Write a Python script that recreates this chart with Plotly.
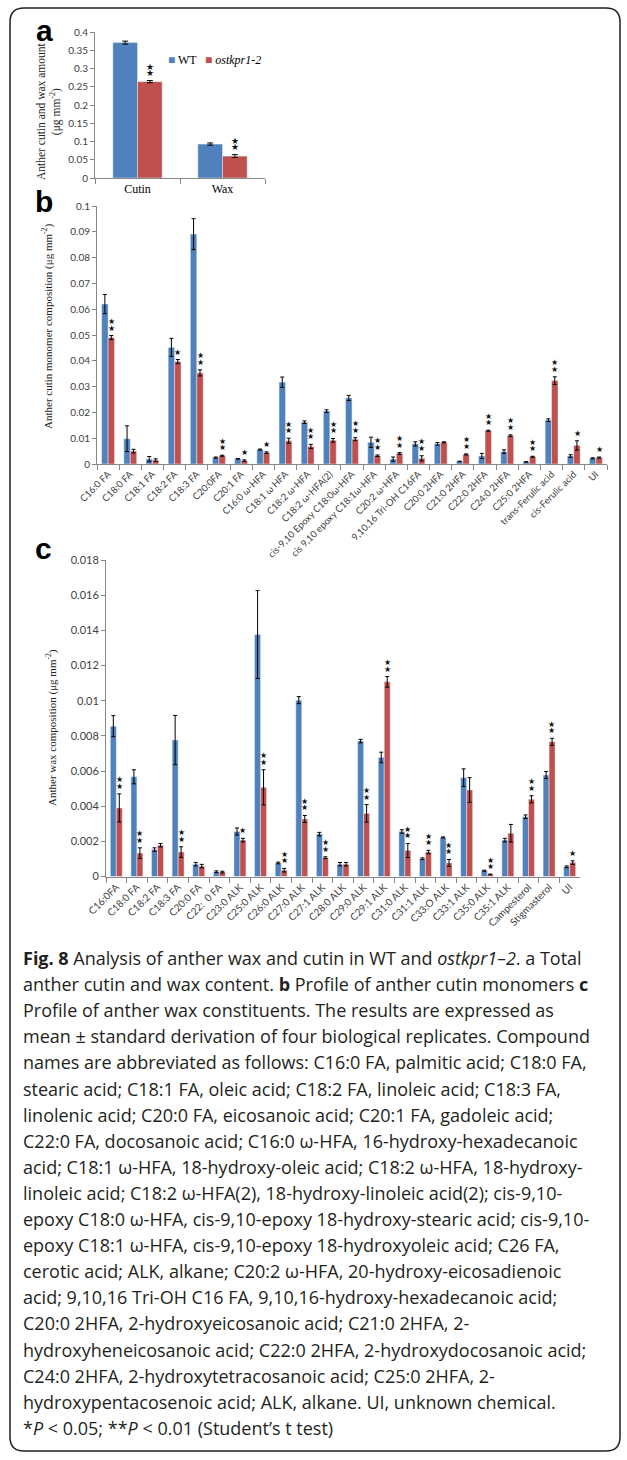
import plotly.graph_objects as go

W, H = 627, 1460

# ---------------- data ----------------
cats_a = ["Cutin", "Wax"]
wt_a = [0.371, 0.093]
wt_a_err = [0.004, 0.003]
ko_a = [0.264, 0.060]
ko_a_err = [0.003, 0.004]
sig_a = ["**", "**"]

cats_b = ["C16:0 FA", "C18:0 FA", "C18:1 FA", "C18:2 FA", "C18:3 FA", "C20:0FA", "C20:1 FA",
          "C16:0 ω-HFA", "C18:1 ω HFA", "C18:2 ω-HFA", "C18:2 ω-HFA(2)",
          "cis-9,10 Epoxy C18:0ω-HFA", "cis 9,10 epoxy C18:1ω-HFA", "C20:2 ω-HFA",
          "9,10,16 Tri-OH C16FA", "C20:0 2HFA", "C21:0 2HFA", "C22:0 2HFA", "C24:0 2HFA",
          "C25:0 2HFA", "trans-Ferulic acid", "cis-Ferulic acid", "UI"]
wt_b = [0.062, 0.0098, 0.0019, 0.0452, 0.0891, 0.0025, 0.0020, 0.0056, 0.0317, 0.0162, 0.0205,
        0.0256, 0.0084, 0.0019, 0.0078, 0.0078, 0.0010, 0.0031, 0.0048, 0.0008, 0.0170, 0.0031, 0.0022]
wt_b_err = [0.0037, 0.005, 0.001, 0.0035, 0.006, 0.0002, 0.0001, 0.0002, 0.002, 0.0005, 0.0005,
            0.001, 0.002, 0.0008, 0.0008, 0.0005, 0.0001, 0.001, 0.0007, 0.0001, 0.0005, 0.0005, 0.0002]
ko_b = [0.049, 0.005, 0.0015, 0.0397, 0.0353, 0.0032, 0.0013, 0.0044, 0.0090, 0.0068, 0.0092,
        0.0096, 0.0032, 0.0041, 0.0022, 0.0084, 0.0037, 0.0129, 0.0110, 0.0028, 0.0323, 0.0072, 0.0025]
ko_b_err = [0.0008, 0.0007, 0.0005, 0.0008, 0.0012, 0.0002, 0.0003, 0.0003, 0.001, 0.0008, 0.0007,
            0.0006, 0.0003, 0.0003, 0.001, 0.0002, 0.0002, 0.0002, 0.0003, 0.0002, 0.0015, 0.0018, 0.0002]
sig_b = ["**", "", "", "*", "**", "**", "*", "*", "**", "**", "**", "**", "**", "**", "**", "",
         "**", "**", "**", "**", "**", "*", "*"]

cats_c = ["C16:0FA", "C18:0 FA", "C18:2 FA", "C18:3 FA", "C20:0 FA", "C22:\u00a0\u00a00 FA", "C23:0 ALK",
          "C25:0 ALK", "C26:0 ALK", "C27:0 ALK", "C27:1 ALK", "C28:0 ALK", "C29:0 ALK", "C29:1 ALK",
          "C31:0 ALK", "C31:1 ALK", "C33:O ALK", "C33:1 ALK", "C35:0 ALK", "C35:1 ALK",
          "Campesterol", "Stigmasterol", "UI"]
wt_c = [0.00855, 0.00567, 0.00153, 0.00776, 0.0007, 0.00027, 0.00256, 0.01376, 0.00077, 0.01003,
        0.00241, 0.0007, 0.0077, 0.00677, 0.00256, 0.00101, 0.00222, 0.00562, 0.00033, 0.00207,
        0.0034, 0.00577, 0.00055]
wt_c_err = [0.0006, 0.0004, 0.0001, 0.0014, 0.0001, 0.00005, 0.0002, 0.0025, 0.00005, 0.0002,
            0.0001, 0.0001, 0.0001, 0.0003, 0.0001, 0.00005, 0.00003, 0.0005, 0.00003, 0.0001,
            0.0001, 0.0002, 0.00005]
ko_c = [0.0039, 0.00133, 0.00178, 0.00139, 0.00059, 0.00025, 0.00207, 0.00507, 0.00036, 0.00327,
        0.00107, 0.0007, 0.00359, 0.01107, 0.00148, 0.00139, 0.00077, 0.00492, 0.00012, 0.00246,
        0.00439, 0.00766, 0.00079]
ko_c_err = [0.0008, 0.0003, 0.0001, 0.0003, 0.0001, 0.00005, 0.0001, 0.001, 0.0001, 0.0002,
            0.00005, 0.0001, 0.0005, 0.0003, 0.0004, 0.0001, 0.0002, 0.0007, 0.00002, 0.0005,
            0.0002, 0.0002, 0.0001]
sig_c = ["**", "**", "", "**", "", "", "*", "**", "**", "**", "**", "", "**", "**", "**", "**",
         "**", "", "**", "", "**", "**", "*"]

ticks_a = [0, 0.05, 0.1, 0.15, 0.2, 0.25, 0.3, 0.35, 0.4]
ticktext_a = ["0", "0.05", "0.1", "0.15", "0.2", "0.25", "0.3", "0.35", "0.4"]
ticks_b = [0, 0.01, 0.02, 0.03, 0.04, 0.05, 0.06, 0.07, 0.08, 0.09, 0.1]
ticktext_b = ["0", "0.01", "0.02", "0.03", "0.04", "0.05", "0.06", "0.07", "0.08", "0.09", "0.1"]
ticks_c = [0, 0.002, 0.004, 0.006, 0.008, 0.01, 0.012, 0.014, 0.016, 0.018]
ticktext_c = ["0", "0.002", "0.004", "0.006", "0.008", "0.01", "0.012", "0.014", "0.016", "0.018"]

caption_lines = [
    "<b>Fig. 8</b> Analysis of anther wax and cutin in WT and <i>ostkpr1–2</i>. a Total",
    "anther cutin and wax content. <b>b</b> Profile of anther cutin monomers <b>c</b>",
    "Profile of anther wax constituents. The results are expressed as",
    "mean ± standard derivation of four biological replicates. Compound",
    "names are abbreviated as follows: C16:0 FA, palmitic acid; C18:0 FA,",
    "stearic acid; C18:1 FA, oleic acid; C18:2 FA, linoleic acid; C18:3 FA,",
    "linolenic acid; C20:0 FA, eicosanoic acid; C20:1 FA, gadoleic acid;",
    "C22:0 FA, docosanoic acid; C16:0 ω-HFA, 16-hydroxy-hexadecanoic",
    "acid; C18:1 ω-HFA, 18-hydroxy-oleic acid; C18:2 ω-HFA, 18-hydroxy-",
    "linoleic acid; C18:2 ω-HFA(2), 18-hydroxy-linoleic acid(2); cis-9,10-",
    "epoxy C18:0 ω-HFA, cis-9,10-epoxy 18-hydroxy-stearic acid; cis-9,10-",
    "epoxy C18:1 ω-HFA, cis-9,10-epoxy 18-hydroxyoleic acid; C26 FA,",
    "cerotic acid; ALK, alkane; C20:2 ω-HFA, 20-hydroxy-eicosadienoic",
    "acid; 9,10,16 Tri-OH C16 FA, 9,10,16-hydroxy-hexadecanoic acid;",
    "C20:0 2HFA, 2-hydroxyeicosanoic acid; C21:0 2HFA, 2-",
    "hydroxyheneicosanoic acid; C22:0 2HFA, 2-hydroxydocosanoic acid;",
    "C24:0 2HFA, 2-hydroxytetracosanoic acid; C25:0 2HFA, 2-",
    "hydroxypentacosenoic acid; ALK, alkane. UI, unknown chemical.",
    "*<i>P</i> &lt; 0.05; **<i>P</i> &lt; 0.01 (Student’s t test)",
]

BLUE = "#4F81BD"
RED = "#C0504D"
AXC = "#868686"
TICKC = "#404040"
SERIF = "Liberation Serif"
SANS = "Lato"


def fx(px):
    return px / W


def fy(py):
    return 1 - py / H


fig = go.Figure()


def add_panel(cats, wt, wte, ko, koe, xa, ya, capw):
    fig.add_trace(go.Bar(x=cats, y=wt, name="WT", marker_color=BLUE, xaxis=xa, yaxis=ya,
                         showlegend=False,
                         error_y=dict(type="data", array=wte, color="black", thickness=1, width=capw)))
    fig.add_trace(go.Bar(x=cats, y=ko, name="ostkpr1-2", marker_color=RED, xaxis=xa, yaxis=ya,
                         showlegend=False,
                         error_y=dict(type="data", array=koe, color="black", thickness=1, width=capw)))


add_panel(cats_a, wt_a, wt_a_err, ko_a, ko_a_err, "x", "y", 3)
add_panel(cats_b, wt_b, wt_b_err, ko_b, ko_b_err, "x2", "y2", 2)
add_panel(cats_c, wt_c, wt_c_err, ko_c, ko_c_err, "x3", "y3", 2)

yax_common = dict(showline=True, linecolor=AXC, linewidth=1, ticks="outside", ticklen=4,
                  tickcolor=AXC, showgrid=False, zeroline=False, automargin=False)
xax_common = dict(showline=True, linecolor=AXC, linewidth=1, ticks="outside", ticklen=5,
                  tickcolor=AXC, tickson="boundaries", showgrid=False, zeroline=False,
                  automargin=False)

fig.update_layout(
    width=W, height=H, margin=dict(l=0, r=0, t=0, b=0, pad=0), autosize=False,
    paper_bgcolor="white", plot_bgcolor="white",
    barmode="group", bargap=0.42, bargroupgap=0,
    showlegend=False,
    xaxis=dict(domain=[fx(95), fx(265)], anchor="y",
               tickfont=dict(family=SERIF, size=12, color="black"), **xax_common),
    yaxis=dict(domain=[fy(178), fy(32)], anchor="x", range=[0, 0.4],
               tickvals=ticks_a, ticktext=ticktext_a,
               tickfont=dict(family=SANS, size=10, color=TICKC), **yax_common),
    xaxis2=dict(domain=[fx(97), fx(607)], anchor="y2", tickangle=-45,
                tickfont=dict(family=SANS, size=9.5, color=TICKC), **xax_common),
    yaxis2=dict(domain=[fy(464), fy(206)], anchor="x2", range=[0, 0.1],
                tickvals=ticks_b, ticktext=ticktext_b,
                tickfont=dict(family=SANS, size=10, color=TICKC), **yax_common),
    xaxis3=dict(domain=[fx(106), fx(580)], anchor="y3", tickangle=-45,
                tickfont=dict(family=SANS, size=10, color=TICKC), **xax_common),
    yaxis3=dict(domain=[fy(876.5), fy(560)], anchor="x3", range=[0, 0.018],
                tickvals=ticks_c, ticktext=ticktext_c,
                tickfont=dict(family=SANS, size=11, color=TICKC), **yax_common),
)

ann = []


def stars(cats, ko, koe, sig, xr, yr, off, size=9):
    for c, v, e, s in zip(cats, ko, koe, sig):
        for k in range(len(s)):
            ann.append(dict(x=c, y=v + e, xref=xr, yref=yr, text="★", showarrow=False,
                            xshift=off, yshift=7.5 + 6.5 * k, xanchor="center", yanchor="middle",
                            font=dict(family="DejaVu Sans", size=size, color="#111")))


stars(cats_a, ko_a, ko_a_err, sig_a, "x", "y", 12, 9)
stars(cats_b, ko_b, ko_b_err, sig_b, "x2", "y2", 3.3, 8)
stars(cats_c, ko_c, ko_c_err, sig_c, "x3", "y3", 2.9, 8)

# panel letters
for letter, px, py in [("a", 44, 31), ("b", 44, 202), ("c", 43, 549)]:
    ann.append(dict(x=fx(px), y=fy(py), xref="paper", yref="paper", text="<b>%s</b>" % letter,
                    xanchor="center", yanchor="middle",
                    showarrow=False, font=dict(family="Liberation Sans", size=30, color="black")))

# y axis titles
ann.append(dict(x=fx(49), y=fy(112), xref="paper", yref="paper", xanchor="center", yanchor="middle",
                text="Anther cutin and wax amount<br>(μg mm<sup>-2</sup>)", textangle=-90,
                showarrow=False, font=dict(family=SERIF, size=11.5, color="#222")))
ann.append(dict(x=fx(47), y=fy(326), xref="paper", yref="paper", xanchor="center", yanchor="middle",
                text="Anther cutin monomer composition (μg mm<sup>-2</sup>)", textangle=-90,
                showarrow=False, font=dict(family=SERIF, size=11, color="#222")))
ann.append(dict(x=fx(52), y=fy(728), xref="paper", yref="paper", xanchor="center", yanchor="middle",
                text="Anther wax composition (μg mm<sup>-2</sup>)", textangle=-90,
                showarrow=False, font=dict(family=SERIF, size=11, color="#222")))

# legend (panel a)
ann.append(dict(x=fx(166), y=fy(60), xref="paper", yref="paper", xanchor="left", yanchor="middle",
                text='<span style="color:%s">■</span> WT' % BLUE, showarrow=False,
                font=dict(family=SERIF, size=12, color="black")))
ann.append(dict(x=fx(203), y=fy(60), xref="paper", yref="paper", xanchor="left", yanchor="middle",
                text='<span style="color:%s">■</span> <i>ostkpr1-2</i>' % RED, showarrow=False,
                font=dict(family=SERIF, size=12, color="black")))

# caption
for i, line in enumerate(caption_lines):
    ann.append(dict(x=fx(21), y=fy(958 + 26.1 * i), xref="paper", yref="paper", xanchor="left",
                    yanchor="middle", text=line, showarrow=False, align="left",
                    font=dict(family="Open Sans", size=18, color="#231f20")))

fig.update_layout(annotations=ann)

# rounded frame
x0, x1 = fx(10), fx(620)
y0, y1 = fy(8), fy(1451)
rx, ry = 14 / W, 14 / H
path = (f"M {x0+rx},{y0} L {x1-rx},{y0} Q {x1},{y0} {x1},{y0-ry} L {x1},{y1+ry} "
        f"Q {x1},{y1} {x1-rx},{y1} L {x0+rx},{y1} Q {x0},{y1} {x0},{y1+ry} "
        f"L {x0},{y0-ry} Q {x0},{y0} {x0+rx},{y0} Z")
fig.add_shape(type="path", path=path, xref="paper", yref="paper",
              line=dict(color="#222", width=1.5), fillcolor="rgba(0,0,0,0)")

fig.write_html("out.html", config={"displayModeBar": False},
               post_script="document.body.style.margin='0';")
